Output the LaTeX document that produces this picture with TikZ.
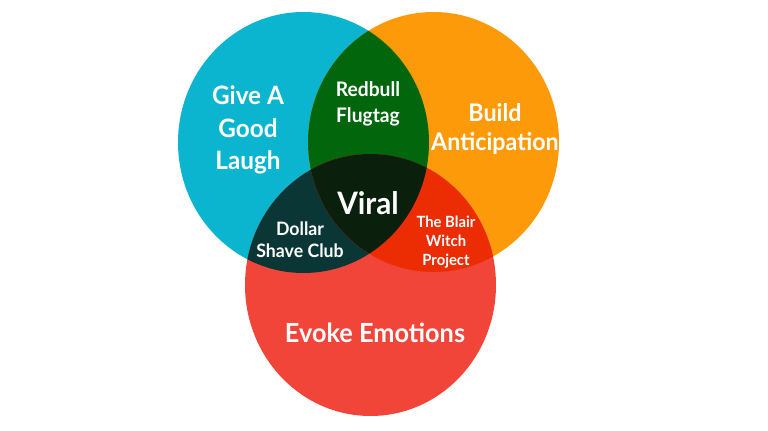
\documentclass[tikz,border=0pt]{standalone}
\usepackage{fontspec}
\setmainfont{Lato}
\definecolor{VennCyan}{HTML}{0CB5CF}
\definecolor{VennOrange}{HTML}{FC9A0A}
\definecolor{VennRed}{HTML}{F1453A}
\definecolor{VennGreen}{HTML}{02660C}
\definecolor{VennTeal}{HTML}{0B3636}
\definecolor{VennFire}{HTML}{EC2C02}
\definecolor{VennCore}{HTML}{0A200C}
\newcommand{\laughpath}{(303.5,287.5) ellipse [x radius=125.5, y radius=130.5]}
\newcommand{\hypepath}{(433.5,288) ellipse [x radius=125.5, y radius=130]}
\newcommand{\feelpath}{(370.5,145) ellipse [x radius=125.5, y radius=131]}
\usetikzlibrary{positioning}

\begin{document}
\begin{tikzpicture}[
        x=0.02cm, y=0.02cm,
        lab/.style={text=white, align=center, inner sep=0pt, xscale=0.96, transform shape},
        big/.style={lab, font=\fontsize{14.4}{18.3}\selectfont\bfseries},
        mid/.style={lab, font=\fontsize{11.4}{15}\selectfont\bfseries},
        small/.style={lab, font=\fontsize{8.8}{10.9}\selectfont\bfseries}
    ]
        \useasboundingbox (0,0) rectangle (768,430);
        % the three sets
        \fill[VennCyan] \laughpath;
        \fill[VennOrange] \hypepath;
        \fill[VennRed] \feelpath;
        % pairwise overlaps
        \begin{scope}
            \clip \laughpath;
            \fill[VennGreen] \hypepath;
            \fill[VennTeal] \feelpath;
        \end{scope}
        \begin{scope}
            \clip \hypepath;
            \fill[VennFire] \feelpath;
        \end{scope}
        % centre
        \begin{scope}
            \clip \laughpath;
            \clip \hypepath;
            \fill[VennCore] \feelpath;
        \end{scope}
        \node[big] (laugh) at (248,300) {Give A\\Good\\Laugh};
        \node[big, font=\fontsize{13.8}{17}\selectfont\bfseries] (hype) at (495,301) {Build\\Anticipation};
        \node[big, font=\fontsize{15}{18}\selectfont\bfseries] (feel) at (375,97) {Evoke Emotions};
        \node[mid] (redbull) at (368,326) {Redbull\\Flugtag};
        \node[mid, font=\fontsize{10.5}{12.6}\selectfont\bfseries] (dollar) at (300,190) {Dollar\\Shave Club};
        \node[small] (blair) at (446,188) {The Blair\\Witch\\Project};
        \node[lab, font=\fontsize{17.6}{20}\selectfont\bfseries] (viral) at (368,227) {Viral};
\end{tikzpicture}
\end{document}
